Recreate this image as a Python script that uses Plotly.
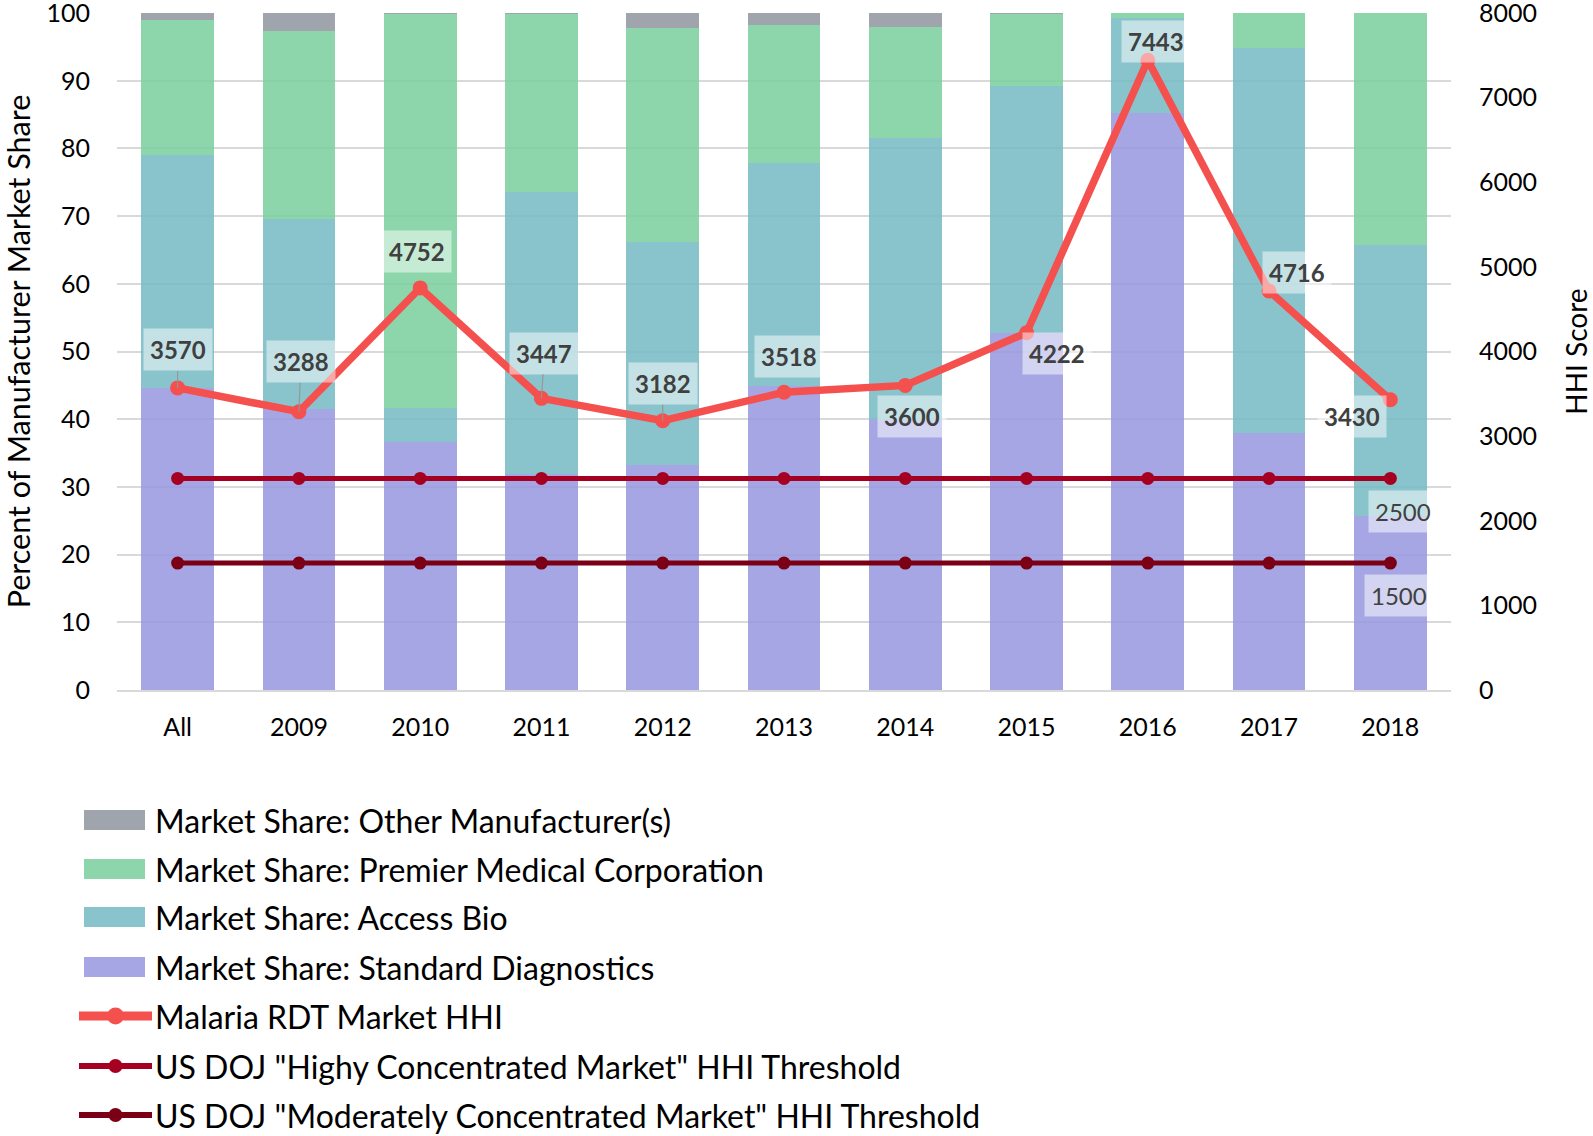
import plotly.graph_objects as go

categories = ["All", "2009", "2010", "2011", "2012", "2013", "2014", "2015", "2016", "2017", "2018"]
sd_share = [44.6, 41.5, 36.6, 31.9, 33.3, 44.9, 39.9, 52.8, 85.3, 38.0, 25.7]
ab_share = [34.4, 28.1, 5.0, 41.7, 32.9, 32.9, 41.6, 36.4, 13.9, 56.9, 40.1]
pmc_share = [20.0, 27.8, 58.2, 26.2, 31.6, 20.5, 16.4, 10.6, 0.8, 5.1, 34.2]
other_share = [1.0, 2.6, 0.2, 0.2, 2.2, 1.7, 2.1, 0.2, 0.0, 0.0, 0.0]
hhi = [3570, 3288, 4752, 3447, 3182, 3518, 3600, 4222, 7443, 4716, 3430]
high_threshold = [2500] * 11
moderate_threshold = [1500] * 11

# label offsets (pixels) for HHI data labels
hhi_label_dx = [0, 2, -3, 3, 0, 5, 7, 30, 8, 28, -38]
hhi_label_dy = [-38, -50, -36, -45, -37, -36, 31, 21, -19, -18, 17]
hhi_leader = [True, True, False, True, True, False, False, False, False, False, False]

FONT = "Lato"
W, H = 1593, 1136
ML, MR, MT, MB = 117, 142, 13, 446
PW, PH = W - ML - MR, H - MT - MB


def px_x(px):
    return (px - ML) / PW


def px_y(py):
    return (H - MB - py) / PH


fig = go.Figure()

bar_specs = [
    ("Market Share: Standard Diagnostics", sd_share, "rgba(150,150,223,0.85)"),
    ("Market Share: Access Bio", ab_share, "rgba(116,186,195,0.85)"),
    ("Market Share: Premier Medical Corporation", pmc_share, "rgba(121,207,156,0.85)"),
    ("Market Share: Other Manufacturer(s)", other_share, "rgba(143,148,158,0.85)"),
]
for name, vals, col in bar_specs:
    fig.add_trace(go.Bar(x=categories, y=vals, name=name, marker=dict(color=col, line=dict(width=0)),
                         yaxis="y"))

line_specs = [
    ("Malaria RDT Market HHI", hhi, "#f4504e", 7.5, 15, 9, 17),
    ('US DOJ "Highy Concentrated Market" HHI Threshold', high_threshold, "#a50021", 5, 13, 6, 14),
    ('US DOJ "Moderately Concentrated Market" HHI Threshold', moderate_threshold, "#7b0016", 5, 13, 6, 14),
]
for name, vals, col, lw, ms, _, _ in line_specs:
    fig.add_trace(go.Scatter(x=categories, y=vals, name=name, yaxis="y2",
                             mode="lines+markers", line=dict(color=col, width=lw),
                             marker=dict(color=col, size=ms)))

annotations = []
for i, c in enumerate(categories):
    annotations.append(dict(
        x=i, y=hhi[i], xref="x", yref="y2", text="<b>%d</b>" % hhi[i],
        showarrow=True, ax=hhi_label_dx[i], ay=hhi_label_dy[i], axref="pixel", ayref="pixel",
        arrowhead=0, arrowwidth=1.2,
        arrowcolor="rgba(150,150,150,0.9)" if hhi_leader[i] else "rgba(0,0,0,0)",
        font=dict(family=FONT, size=24, color="#404040"),
        bgcolor="rgba(255,255,255,0.5)", borderpad=6,
    ))
last = len(categories) - 1
annotations.append(dict(
    x=last, y=high_threshold[-1], xref="x", yref="y2", text=str(high_threshold[-1]),
    showarrow=True, ax=13, ay=33, arrowhead=0, arrowcolor="rgba(0,0,0,0)",
    font=dict(family=FONT, size=24, color="#404040"),
    bgcolor="rgba(255,255,255,0.5)", borderpad=6))
annotations.append(dict(
    x=last, y=moderate_threshold[-1], xref="x", yref="y2", text=str(moderate_threshold[-1]),
    showarrow=True, ax=9, ay=32, arrowhead=0, arrowcolor="rgba(0,0,0,0)",
    font=dict(family=FONT, size=24, color="#404040"),
    bgcolor="rgba(255,255,255,0.5)", borderpad=6))

# manual legend (drawn in paper coordinates below the plot)
legend_rows_y = [820, 869, 917, 967, 1016, 1066, 1115]
legend_entries = [(n, c, "bar") for n, _, c in reversed(bar_specs)] + \
                 [(n, c, (lw2, ms2)) for n, _, c, _, _, lw2, ms2 in line_specs]
shapes = []
for (name, col, kind), ry in zip(legend_entries, legend_rows_y):
    if kind == "bar":
        shapes.append(dict(type="rect", xref="paper", yref="paper",
                           x0=px_x(84), x1=px_x(145), y0=px_y(ry - 10), y1=px_y(ry + 10),
                           fillcolor=col, line=dict(width=0)))
    else:
        lw2, ms2 = kind
        shapes.append(dict(type="line", xref="paper", yref="paper",
                           x0=px_x(79), x1=px_x(152), y0=px_y(ry), y1=px_y(ry),
                           line=dict(color=col, width=lw2)))
        shapes.append(dict(type="circle", xref="paper", yref="paper",
                           x0=px_x(115.5 - ms2 / 2), x1=px_x(115.5 + ms2 / 2),
                           y0=px_y(ry - ms2 / 2), y1=px_y(ry + ms2 / 2),
                           fillcolor=col, line=dict(width=0)))
    annotations.append(dict(x=px_x(153), y=px_y(ry), xref="paper", yref="paper",
                            xanchor="left", yanchor="middle", showarrow=False,
                            text=name, font=dict(family=FONT, size=32, color="#000000")))

fig.update_layout(
    width=W, height=H,
    margin=dict(l=ML, r=MR, t=MT, b=MB, autoexpand=False),
    paper_bgcolor="white", plot_bgcolor="white",
    barmode="stack", bargap=0.4,
    font=dict(family=FONT, size=25, color="#000000"),
    showlegend=False,
    xaxis=dict(type="category", range=[-0.5, len(categories) - 0.5],
               showline=True, linecolor="#d9d9d9", linewidth=2, showgrid=False,
               ticks="", ticklabelstandoff=14, tickfont=dict(size=25)),
    yaxis=dict(range=[0, 100.01], dtick=10, tick0=0, showgrid=True, gridcolor="#d9d9d9", gridwidth=1.5,
               zeroline=False, ticks="", ticklabelstandoff=26, ticklabeloverflow="allow",
               tickfont=dict(size=25),
               title=dict(text="Percent of Manufacturer Market Share", font=dict(size=30.5), standoff=41)),
    yaxis2=dict(range=[0, 8000.8], dtick=1000, tick0=0, overlaying="y", side="right", showgrid=False,
                zeroline=False, ticks="", ticklabelstandoff=27, ticklabeloverflow="allow",
                tickfont=dict(size=25),
                title=dict(text="HHI Score", font=dict(size=28), standoff=33)),
    annotations=annotations,
    shapes=shapes,
)

fig.write_html("out.html", config={"displayModeBar": False},
               post_script="document.body.style.margin='0';")
